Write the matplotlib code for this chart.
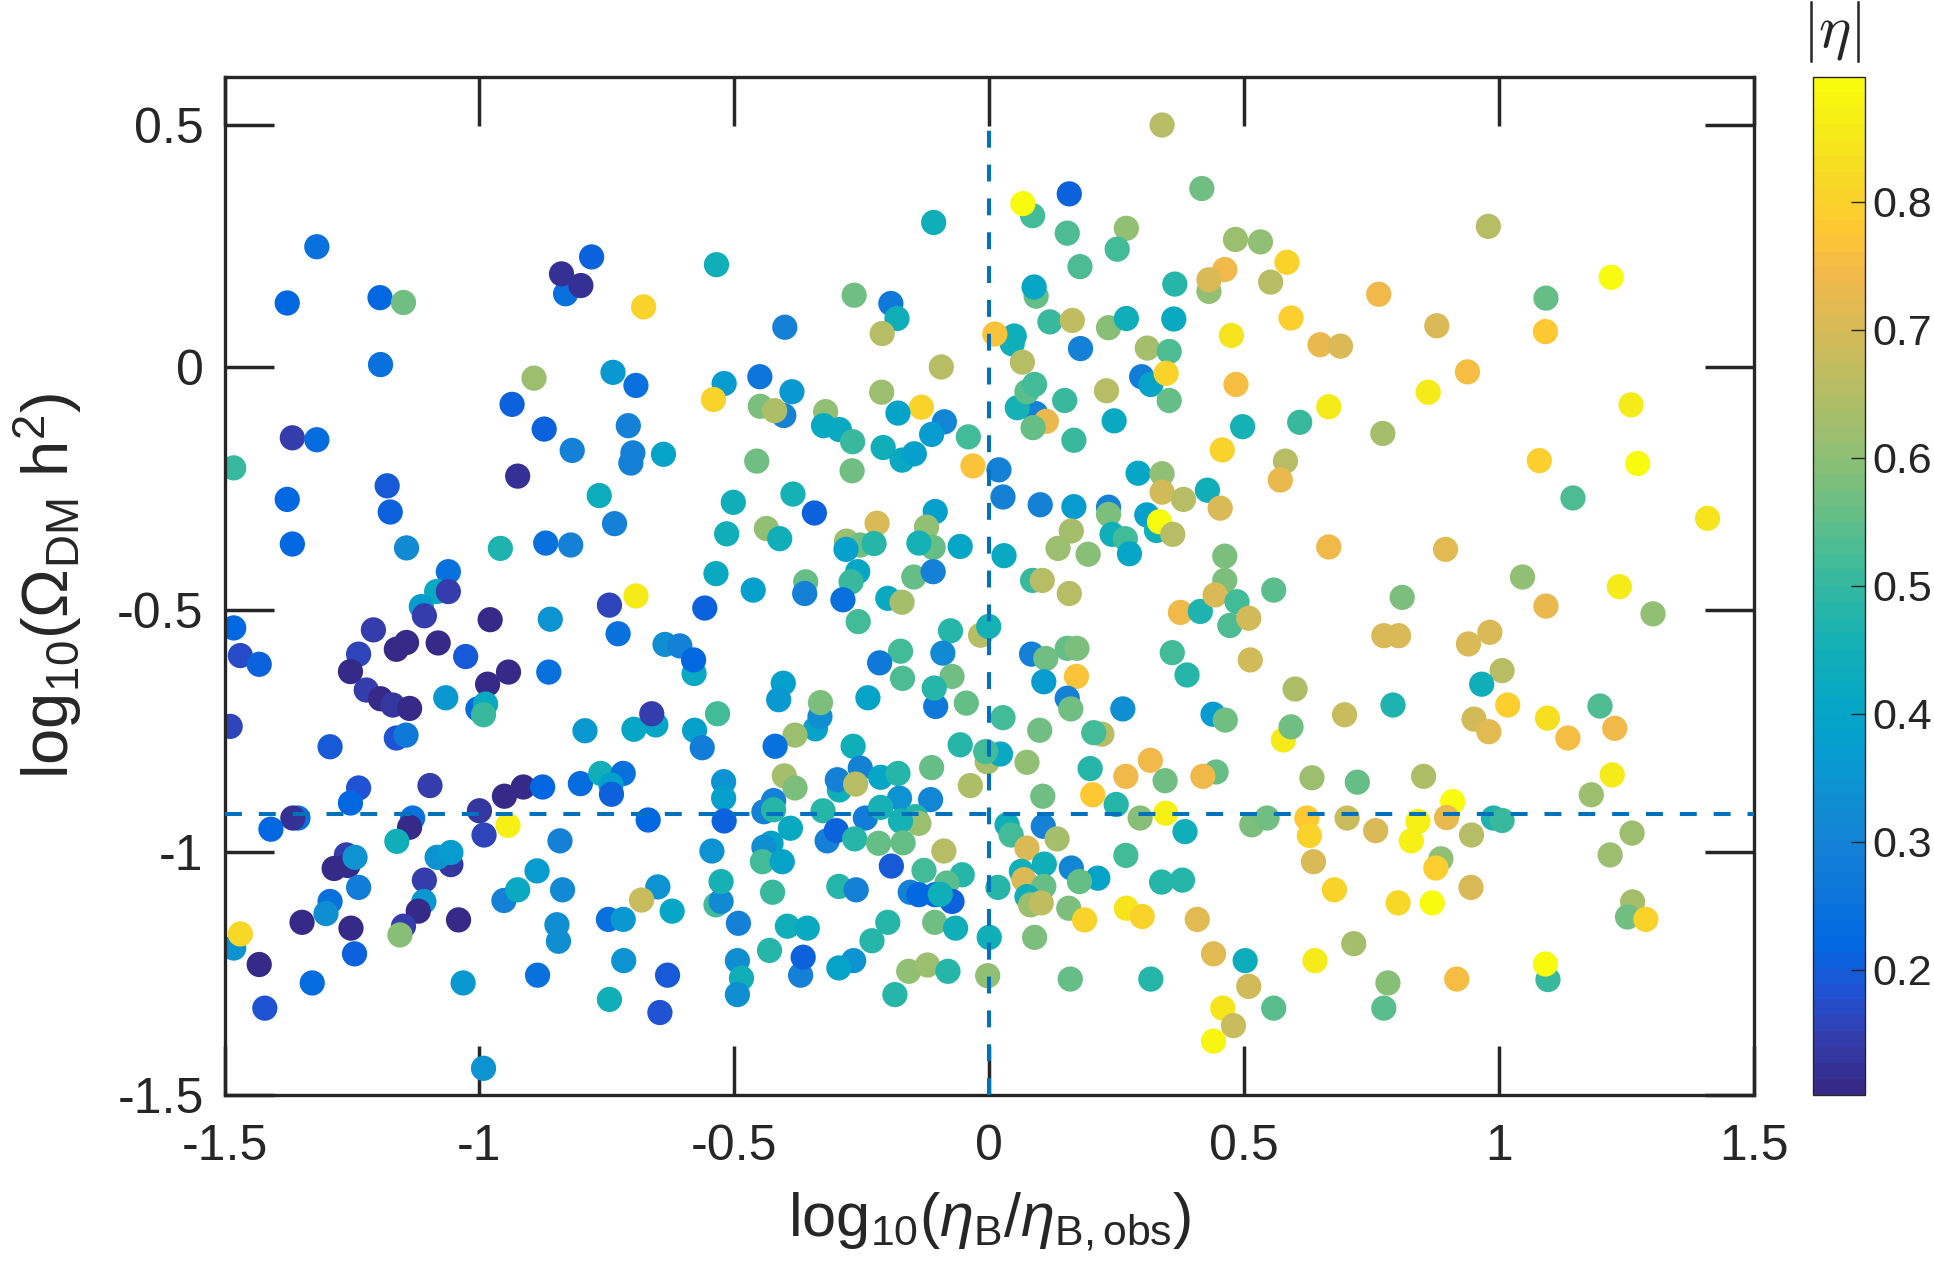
import matplotlib
matplotlib.use('Agg')
import matplotlib.pyplot as plt
from matplotlib.colors import LinearSegmentedColormap
from matplotlib.ticker import FuncFormatter

# log10(eta_B / eta_B,obs)
x_vals = [
    -1.319, -1.377, -1.195, -1.149, -0.780, -0.831, -0.839, -0.801, -0.535, -0.678,
    -1.194, -0.893, -0.738, -0.693, -0.520, -0.541, -0.936, -0.873, -0.708, -0.818,
    -0.703, -0.699, -0.639, -1.367, -1.319, -1.482, -0.925, -1.377, -1.181, -1.175,
    -0.765, -0.735, -0.502, -1.367, -1.143, -0.959, -0.870, -0.821, -0.515, -0.536,
    -1.061,
    0.339, 0.417, 0.157, 0.085, 0.066, -0.109, 0.153, 0.269, 0.251, 0.178,
    0.483, 0.431, 0.462, 0.431, 0.364, 0.092, 0.088, -0.265, -0.193, -0.181,
    -0.210, -0.401, 0.119, 0.163, 0.234, 0.269, 0.362, 0.475, 0.045, 0.049,
    0.011, 0.179, 0.065, 0.310, 0.353, -0.094, 0.299, 0.317, 0.347, 0.484,
    -0.450, -0.387, -0.403, -0.449, -0.421, -0.211, -0.133, -0.179, -0.088, -0.113,
    -0.041, -0.321, -0.325, -0.294, -0.268, -0.208, -0.171, -0.147, -0.032, -0.456,
    -0.269, 0.019, 0.027, 0.091, 0.112, 0.086, 0.055, 0.074, 0.089, 0.148,
    0.166, 0.230, 0.245, 0.353, 0.457, 0.497, 0.292, 0.339, 0.339, 0.381,
    0.428, 0.453, 0.100, 0.166, 0.234, 0.234, 0.309, 0.328, 0.334, 0.360,
    0.161, 0.135, 0.194, 0.241, 0.267, 0.275, 0.462, 0.462, 0.029, 0.085,
    0.104, -0.385, -0.343, -0.437, -0.411, -0.220, -0.280, -0.253, -0.226, -0.281,
    -0.106, -0.123, -0.110, -0.138, -0.057, -0.258, -0.271, -0.148, -0.110, -0.360,
    0.979, 0.532, 0.584, 0.552, 0.764, 1.220, 1.092, 1.091, 0.592, 0.878,
    0.649, 0.689, 0.938, 0.861, 1.259, 0.666, 0.609, 0.772, 0.581, 0.571,
    1.079, 1.272, 1.145, 1.409, 0.666, 0.895, 1.046,
    -1.084, -1.061, -1.114, -1.108, -0.979, -0.693, -0.745, -0.728, -0.558, -1.482,
    -1.469, -1.432, -1.208, -1.237, -1.253, -1.222, -1.194, -1.170, -1.137, -1.163,
    -1.143, -1.081, -1.027, -0.943, -0.984, -1.066, -1.003, -0.988, -0.992, -0.861,
    -0.864, -0.636, -0.607, -0.579, -0.580, -1.489, -1.293, -1.163, -1.144, -0.793,
    -0.697, -0.654, -0.662, -0.578, -0.563, -0.533, -1.237, -1.253, -1.097, -0.914,
    -0.951, -0.876, -0.802, -0.762, -0.718, -0.742, -0.741, -0.521, -0.521, -0.520,
    -0.669, -1.356, -1.366, -1.409, -1.131, -1.137, -1.162, -1.000, -0.991, -0.944,
    -0.842, -0.544, -1.261, -1.258, -1.285, -1.244, -1.237, -1.056, -1.083, -1.056,
    -1.108, -1.109, -1.120, -1.293, -1.301, -1.348, -1.252, -1.041, -1.149, -1.156,
    -0.887, -0.952, -0.925, -0.837, -0.848, -0.845, -0.650, -0.682, -0.622, -0.747,
    -0.718, -0.536, -0.526, -0.526, -1.482, -1.469, -1.432, -1.245, -1.328, -1.421,
    -1.032, -0.886, -0.717, -0.631, -0.745, -0.646, -0.992,
    -0.463, -0.362, -0.287, -0.257, -0.199, -0.171, -0.076, -0.017, -0.001, -0.174,
    -0.091, -0.215, -0.170, -0.073, -0.105, -0.108, -0.045, -0.404, -0.413, -0.238,
    -0.341, -0.332, -0.331, -0.381, -0.420, -0.267, -0.057, -0.004, 0.022, -0.007,
    -0.402, -0.381, -0.253, -0.294, -0.298, -0.262, -0.213, -0.179, -0.113, -0.037,
    -0.115, -0.176, -0.423, -0.442, -0.423, -0.326, -0.243, -0.213, -0.145, -0.138,
    -0.174, -0.390, -0.318, -0.300, -0.264, -0.217, -0.169, -0.428, -0.442, -0.445,
    -0.406, -0.089, -0.192, -0.128, -0.053, -0.083, -0.155, -0.138, -0.106, -0.073,
    -0.096, -0.425, -0.295, -0.261, -0.492, -0.396, -0.357, -0.199, -0.230, -0.107,
    -0.066, -0.431, -0.370, -0.365, -0.494, -0.486, -0.494, -0.266, -0.295, -0.158,
    -0.121, -0.081, -0.185, -0.000, -0.003, 0.157, 0.083, 0.111, 0.107, 0.153,
    0.172, 0.171, 0.153, 0.160, 0.027, 0.099, 0.074, 0.221, 0.205, 0.262,
    0.198, 0.203, 0.105, 0.268, 0.316, 0.345, 0.249, 0.296, 0.346, 0.384,
    0.268, 0.359, 0.388, 0.375, 0.414, 0.443, 0.486, 0.472, 0.439, 0.463,
    0.445, 0.419, 0.035, 0.043, 0.106, 0.133, 0.074, 0.108, 0.161, 0.213,
    0.177, 0.063, 0.068, 0.107, 0.074, 0.081, 0.102, 0.017, 0.156, 0.187,
    0.269, 0.300, 0.338, 0.379, 0.408, 0.089, 0.159, 0.317, 0.440, 0.458,
    0.479, 0.440,
    0.558, 0.810, 1.236, 1.092, 1.302, 0.509, 0.774, 0.803, 0.940, 0.982,
    0.512, 1.006, 0.600, 0.966, 0.792, 1.017, 0.697, 0.951, 0.980, 1.095,
    1.135, 1.198, 1.227, 0.577, 0.592, 0.633, 0.722, 0.852, 1.222, 1.181,
    0.909, 0.515, 0.545, 0.623, 0.628, 0.702, 0.758, 0.828, 0.841, 0.897,
    0.946, 0.989, 1.006, 1.261, 1.218, 0.636, 0.886, 0.876, 0.945, 0.677,
    0.802, 0.869, 1.262, 1.252, 1.288, 0.502, 0.509, 0.639, 0.715, 0.782,
    0.774, 0.558, 0.917, 1.096, 1.091,
]

# log10(Omega_DM h^2)
y_vals = [
    0.249, 0.133, 0.144, 0.134, 0.228, 0.152, 0.193, 0.169, 0.212, 0.125,
    0.006, -0.022, -0.010, -0.037, -0.033, -0.066, -0.076, -0.127, -0.120, -0.171,
    -0.197, -0.176, -0.179, -0.145, -0.149, -0.207, -0.224, -0.272, -0.244, -0.298,
    -0.264, -0.322, -0.278, -0.364, -0.372, -0.373, -0.362, -0.366, -0.343, -0.425,
    -0.421,
    0.500, 0.369, 0.358, 0.313, 0.338, 0.299, 0.277, 0.287, 0.244, 0.208,
    0.264, 0.157, 0.202, 0.181, 0.172, 0.147, 0.166, 0.149, 0.132, 0.101,
    0.070, 0.083, 0.094, 0.097, 0.082, 0.101, 0.100, 0.066, 0.049, 0.065,
    0.069, 0.039, 0.011, 0.040, 0.033, 0.001, -0.019, -0.035, -0.012, -0.035,
    -0.019, -0.050, -0.099, -0.080, -0.089, -0.051, -0.082, -0.094, -0.112, -0.138,
    -0.143, -0.091, -0.120, -0.128, -0.153, -0.165, -0.191, -0.178, -0.203, -0.193,
    -0.213, -0.211, -0.267, -0.095, -0.111, -0.124, -0.083, -0.050, -0.035, -0.068,
    -0.150, -0.048, -0.110, -0.068, -0.170, -0.122, -0.218, -0.219, -0.257, -0.272,
    -0.253, -0.290, -0.283, -0.287, -0.288, -0.303, -0.304, -0.336, -0.318, -0.344,
    -0.337, -0.373, -0.385, -0.344, -0.353, -0.384, -0.389, -0.439, -0.388, -0.439,
    -0.439, -0.261, -0.300, -0.332, -0.353, -0.321, -0.358, -0.366, -0.363, -0.375,
    -0.297, -0.329, -0.371, -0.362, -0.369, -0.421, -0.442, -0.432, -0.421, -0.442,
    0.291, 0.259, 0.217, 0.176, 0.151, 0.186, 0.143, 0.074, 0.102, 0.086,
    0.047, 0.044, -0.009, -0.051, -0.077, -0.081, -0.113, -0.136, -0.193, -0.232,
    -0.192, -0.198, -0.269, -0.311, -0.370, -0.375, -0.432,
    -0.462, -0.462, -0.493, -0.512, -0.520, -0.471, -0.490, -0.549, -0.496, -0.537,
    -0.594, -0.612, -0.541, -0.591, -0.627, -0.665, -0.683, -0.696, -0.703, -0.581,
    -0.567, -0.568, -0.596, -0.628, -0.653, -0.681, -0.704, -0.694, -0.716, -0.519,
    -0.628, -0.571, -0.574, -0.631, -0.603, -0.740, -0.782, -0.764, -0.758, -0.749,
    -0.746, -0.737, -0.714, -0.748, -0.784, -0.714, -0.867, -0.898, -0.862, -0.865,
    -0.884, -0.865, -0.858, -0.837, -0.837, -0.861, -0.880, -0.854, -0.888, -0.935,
    -0.933, -0.929, -0.929, -0.952, -0.929, -0.948, -0.977, -0.914, -0.964, -0.944,
    -0.976, -0.997, -1.005, -1.027, -1.033, -1.010, -1.072, -1.025, -1.010, -1.000,
    -1.057, -1.101, -1.121, -1.101, -1.126, -1.144, -1.156, -1.139, -1.152, -1.170,
    -1.038, -1.099, -1.077, -1.077, -1.149, -1.183, -1.071, -1.098, -1.121, -1.138,
    -1.138, -1.108, -1.101, -1.060, -1.197, -1.168, -1.231, -1.209, -1.269, -1.321,
    -1.269, -1.253, -1.223, -1.253, -1.303, -1.330, -1.445,
    -0.459, -0.466, -0.479, -0.524, -0.476, -0.484, -0.543, -0.552, -0.534, -0.585,
    -0.589, -0.609, -0.641, -0.637, -0.699, -0.661, -0.692, -0.651, -0.685, -0.681,
    -0.745, -0.720, -0.691, -0.758, -0.781, -0.781, -0.778, -0.813, -0.797, -0.792,
    -0.842, -0.867, -0.826, -0.871, -0.850, -0.859, -0.845, -0.837, -0.825, -0.862,
    -0.891, -0.888, -0.893, -0.916, -0.912, -0.914, -0.929, -0.907, -0.926, -0.940,
    -0.935, -0.950, -0.976, -0.955, -0.972, -0.981, -0.980, -0.981, -0.989, -1.019,
    -1.019, -0.997, -1.028, -1.037, -1.046, -1.063, -1.082, -1.087, -1.087, -1.101,
    -1.086, -1.082, -1.070, -1.077, -1.146, -1.152, -1.156, -1.144, -1.182, -1.144,
    -1.156, -1.202, -1.253, -1.216, -1.223, -1.259, -1.293, -1.223, -1.238, -1.245,
    -1.232, -1.245, -1.293, -1.175, -1.254, -0.466, -0.591, -0.600, -0.648, -0.579,
    -0.579, -0.637, -0.682, -0.704, -0.722, -0.748, -0.814, -0.756, -0.753, -0.704,
    -0.827, -0.881, -0.884, -0.843, -0.810, -0.852, -0.901, -0.929, -0.919, -0.957,
    -1.006, -0.588, -0.634, -0.505, -0.503, -0.469, -0.483, -0.532, -0.715, -0.727,
    -0.834, -0.843, -0.943, -0.964, -0.946, -0.972, -0.991, -1.024, -1.032, -1.053,
    -1.060, -1.039, -1.056, -1.070, -1.091, -1.108, -1.104, -1.072, -1.115, -1.139,
    -1.115, -1.132, -1.061, -1.057, -1.138, -1.175, -1.261, -1.261, -1.209, -1.321,
    -1.357, -1.389,
    -0.459, -0.474, -0.452, -0.492, -0.508, -0.517, -0.553, -0.553, -0.570, -0.546,
    -0.603, -0.625, -0.663, -0.653, -0.696, -0.696, -0.716, -0.725, -0.751, -0.723,
    -0.764, -0.698, -0.744, -0.768, -0.741, -0.846, -0.855, -0.843, -0.840, -0.881,
    -0.895, -0.943, -0.929, -0.929, -0.965, -0.929, -0.955, -0.976, -0.936, -0.928,
    -0.964, -0.929, -0.934, -0.960, -1.005, -1.019, -1.013, -1.032, -1.072, -1.077,
    -1.104, -1.104, -1.102, -1.133, -1.138, -1.223, -1.276, -1.223, -1.188, -1.269,
    -1.321, -1.321, -1.261, -1.262, -1.230,
]

# |eta| (colour)
eta_abs = [
    0.25, 0.22, 0.22, 0.57, 0.21, 0.25, 0.12, 0.12, 0.44, 0.80,
    0.24, 0.62, 0.36, 0.25, 0.37, 0.80, 0.21, 0.21, 0.30, 0.30,
    0.30, 0.30, 0.40, 0.15, 0.23, 0.50, 0.12, 0.22, 0.20, 0.21,
    0.43, 0.30, 0.45, 0.22, 0.32, 0.47, 0.25, 0.30, 0.45, 0.42,
    0.25,
    0.66, 0.57, 0.21, 0.52, 0.90, 0.45, 0.53, 0.60, 0.52, 0.53,
    0.62, 0.60, 0.74, 0.70, 0.48, 0.55, 0.41, 0.57, 0.27, 0.45,
    0.65, 0.30, 0.50, 0.67, 0.59, 0.45, 0.42, 0.84, 0.44, 0.44,
    0.77, 0.29, 0.66, 0.63, 0.53, 0.66, 0.28, 0.40, 0.80, 0.76,
    0.26, 0.36, 0.30, 0.58, 0.64, 0.62, 0.81, 0.40, 0.31, 0.37,
    0.52, 0.61, 0.42, 0.42, 0.50, 0.45, 0.42, 0.38, 0.77, 0.57,
    0.57, 0.30, 0.29, 0.30, 0.73, 0.55, 0.46, 0.54, 0.52, 0.50,
    0.50, 0.65, 0.42, 0.55, 0.81, 0.46, 0.41, 0.61, 0.69, 0.65,
    0.45, 0.71, 0.29, 0.37, 0.30, 0.58, 0.38, 0.44, 0.89, 0.66,
    0.63, 0.62, 0.59, 0.45, 0.52, 0.41, 0.58, 0.58, 0.42, 0.50,
    0.66, 0.46, 0.21, 0.60, 0.45, 0.71, 0.62, 0.57, 0.48, 0.38,
    0.38, 0.60, 0.55, 0.46, 0.41, 0.41, 0.50, 0.55, 0.30, 0.55,
    0.66, 0.61, 0.80, 0.66, 0.74, 0.89, 0.55, 0.78, 0.79, 0.71,
    0.73, 0.71, 0.75, 0.85, 0.86, 0.86, 0.50, 0.63, 0.66, 0.73,
    0.79, 0.89, 0.53, 0.84, 0.74, 0.72, 0.60,
    0.42, 0.15, 0.37, 0.15, 0.11, 0.86, 0.16, 0.25, 0.21, 0.22,
    0.17, 0.21, 0.15, 0.16, 0.11, 0.15, 0.11, 0.13, 0.11, 0.11,
    0.11, 0.11, 0.20, 0.11, 0.11, 0.36, 0.23, 0.42, 0.51, 0.35,
    0.25, 0.33, 0.30, 0.42, 0.22, 0.16, 0.20, 0.18, 0.27, 0.36,
    0.41, 0.41, 0.15, 0.38, 0.28, 0.52, 0.18, 0.22, 0.15, 0.11,
    0.11, 0.22, 0.23, 0.44, 0.25, 0.38, 0.21, 0.35, 0.38, 0.21,
    0.22, 0.25, 0.12, 0.22, 0.25, 0.11, 0.45, 0.13, 0.16, 0.87,
    0.30, 0.35, 0.14, 0.11, 0.11, 0.35, 0.28, 0.13, 0.35, 0.37,
    0.14, 0.36, 0.11, 0.25, 0.33, 0.11, 0.11, 0.11, 0.15, 0.59,
    0.37, 0.30, 0.42, 0.32, 0.33, 0.33, 0.35, 0.68, 0.41, 0.25,
    0.36, 0.52, 0.32, 0.46, 0.34, 0.82, 0.11, 0.21, 0.23, 0.18,
    0.36, 0.24, 0.34, 0.20, 0.44, 0.18, 0.35,
    0.38, 0.30, 0.25, 0.52, 0.42, 0.63, 0.48, 0.66, 0.46, 0.52,
    0.32, 0.27, 0.53, 0.57, 0.27, 0.48, 0.56, 0.38, 0.36, 0.40,
    0.40, 0.33, 0.58, 0.62, 0.25, 0.44, 0.48, 0.63, 0.42, 0.52,
    0.63, 0.58, 0.29, 0.45, 0.30, 0.65, 0.41, 0.48, 0.55, 0.64,
    0.31, 0.35, 0.30, 0.30, 0.48, 0.48, 0.28, 0.46, 0.48, 0.62,
    0.46, 0.42, 0.29, 0.21, 0.48, 0.55, 0.55, 0.40, 0.33, 0.52,
    0.40, 0.65, 0.20, 0.52, 0.48, 0.54, 0.30, 0.22, 0.22, 0.21,
    0.45, 0.50, 0.48, 0.30, 0.30, 0.45, 0.42, 0.48, 0.48, 0.57,
    0.45, 0.48, 0.30, 0.21, 0.33, 0.44, 0.33, 0.34, 0.39, 0.61,
    0.62, 0.48, 0.48, 0.45, 0.60, 0.66, 0.30, 0.57, 0.37, 0.56,
    0.58, 0.77, 0.30, 0.57, 0.52, 0.57, 0.60, 0.66, 0.52, 0.33,
    0.48, 0.78, 0.57, 0.74, 0.74, 0.57, 0.48, 0.59, 0.87, 0.45,
    0.52, 0.52, 0.48, 0.74, 0.47, 0.70, 0.52, 0.53, 0.37, 0.57,
    0.56, 0.74, 0.45, 0.52, 0.30, 0.63, 0.70, 0.45, 0.31, 0.40,
    0.55, 0.45, 0.71, 0.55, 0.45, 0.62, 0.67, 0.48, 0.58, 0.80,
    0.84, 0.81, 0.48, 0.48, 0.72, 0.58, 0.55, 0.48, 0.72, 0.84,
    0.68, 0.88,
    0.54, 0.58, 0.86, 0.73, 0.61, 0.69, 0.70, 0.70, 0.70, 0.70,
    0.69, 0.65, 0.64, 0.45, 0.47, 0.79, 0.68, 0.69, 0.72, 0.83,
    0.76, 0.53, 0.74, 0.86, 0.57, 0.62, 0.55, 0.64, 0.85, 0.62,
    0.89, 0.58, 0.57, 0.78, 0.81, 0.68, 0.70, 0.87, 0.87, 0.73,
    0.66, 0.47, 0.50, 0.62, 0.62, 0.71, 0.60, 0.79, 0.70, 0.81,
    0.82, 0.89, 0.63, 0.57, 0.80, 0.43, 0.69, 0.85, 0.63, 0.59,
    0.54, 0.54, 0.76, 0.50, 0.89,
]

x_ticks = [-1.5, -1, -0.5, 0, 0.5, 1, 1.5]
y_ticks = [-1.5, -1, -0.5, 0, 0.5]
cb_ticks = [0.2, 0.3, 0.4, 0.5, 0.6, 0.7, 0.8]
eta_obs_line = -0.92   # horizontal reference

# MATLAB parula (every 3rd entry of the 64 colour table)
parula_pts = [
    (0.2081, 0.1663, 0.5292), (0.2081, 0.2386, 0.6771), (0.1253, 0.3242, 0.8303),
    (0.0060, 0.4086, 0.8828), (0.0498, 0.4586, 0.8641), (0.0779, 0.5040, 0.8384),
    (0.0641, 0.5570, 0.8240), (0.0265, 0.6137, 0.8135), (0.0228, 0.6535, 0.7768),
    (0.0590, 0.6838, 0.7254), (0.1453, 0.7098, 0.6646), (0.2586, 0.7317, 0.5954),
    (0.3953, 0.7459, 0.5244), (0.5300, 0.7491, 0.4661), (0.6473, 0.7456, 0.4188),
    (0.7525, 0.7384, 0.3768), (0.8507, 0.7299, 0.3360), (0.9450, 0.7261, 0.2886),
    (0.9955, 0.7861, 0.1967), (0.9697, 0.8481, 0.1475), (0.9598, 0.9218, 0.0948),
    (0.9763, 0.9831, 0.0538),
]
parula = LinearSegmentedColormap.from_list('parula', parula_pts, N=64)

plt.rcParams['font.family'] = ['Liberation Sans', 'DejaVu Sans']
plt.rcParams['mathtext.fontset'] = 'custom'
plt.rcParams['mathtext.rm'] = 'Liberation Sans'
plt.rcParams['mathtext.it'] = 'Liberation Sans:italic'
plt.rcParams['mathtext.bf'] = 'Liberation Sans:bold'
plt.rcParams['axes.unicode_minus'] = False

dark = '#262626'
fig = plt.figure(figsize=(19.34, 12.75), dpi=100)
ax = fig.add_axes([0.1161, 0.1412, 0.7908, 0.7988])
cax = fig.add_axes([0.9374, 0.1412, 0.0269, 0.7988])

sc = ax.scatter(x_vals, y_vals, c=eta_abs, cmap=parula, vmin=0.102, vmax=0.898,
                s=330, linewidths=0, zorder=2)

ax.plot([-1.5, 1.5], [eta_obs_line, eta_obs_line], color='#0072BD', lw=2.9,
        ls=(0, (4.2, 4.2)), zorder=3)
ax.plot([0, 0], [-1.5, 0.5], color='#0072BD', lw=2.9, ls=(0, (4.2, 4.2)), zorder=3)

ax.set_xlim(-1.5, 1.5)
ax.set_ylim(-1.5, 0.6)
ax.set_xticks(x_ticks)
ax.set_yticks(y_ticks)
fmt = FuncFormatter(lambda v, p: f'{v:g}')
ax.xaxis.set_major_formatter(fmt)
ax.yaxis.set_major_formatter(fmt)
ax.tick_params(direction='in', length=35, width=2.5, color=dark, labelcolor=dark,
               labelsize=36, top=True, right=True)
ax.tick_params(axis='x', pad=21)
ax.tick_params(axis='y', pad=15)
for sp in ax.spines.values():
    sp.set_linewidth(2.4)
    sp.set_color(dark)

ax.set_xlabel(r'$\mathrm{log}_{10}(\eta_{\mathrm{B}}/\eta_{\mathrm{B,obs}})$',
              fontsize=44, color=dark, labelpad=15)
ax.set_ylabel(r'$\mathrm{log}_{10}(\Omega_{\mathrm{DM}}\ \mathrm{h}^{2})$',
              fontsize=47, color=dark, labelpad=24)

cb = fig.colorbar(sc, cax=cax, ticks=cb_ticks)
cb.outline.set_linewidth(1.0)
cb.outline.set_edgecolor(dark)
cax.yaxis.set_major_formatter(fmt)
cax.tick_params(direction='in', length=10, width=1.0, color=dark, labelcolor=dark,
                labelsize=31, pad=5)
fig.text(0.947, 0.975, r'$|\eta|$', fontsize=44, ha='center', va='center',
         color=dark, math_fontfamily='cm')

fig.savefig('out.png', dpi=100)
